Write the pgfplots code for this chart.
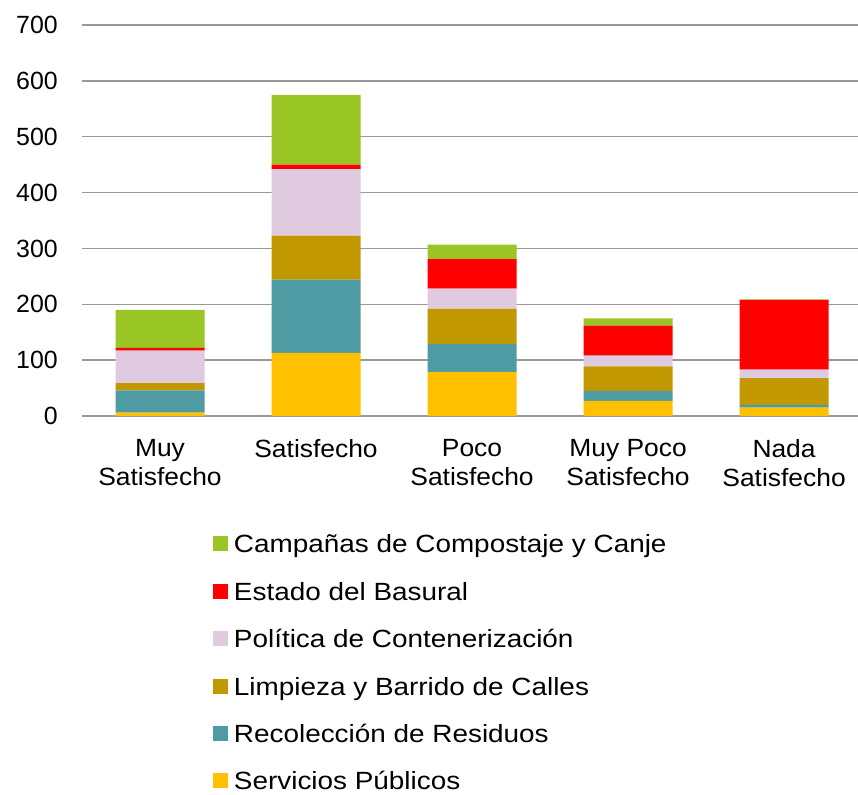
\documentclass[border=0pt]{standalone}
\usepackage{fontspec}
\setmainfont{Liberation Sans}
\newfontfamily\legfont[FakeStretch=1.12]{Liberation Sans}
\newfontfamily\xlabfont[FakeStretch=1.06]{Liberation Sans}
\usepackage{pgfplots}
\pgfplotsset{compat=1.18}
\definecolor{cYel}{RGB}{255,192,0}
\definecolor{cTeal}{RGB}{79,155,164}
\definecolor{cGold}{RGB}{194,152,0}
\definecolor{cPink}{RGB}{224,202,224}
\definecolor{cRed}{RGB}{255,0,0}
\definecolor{cGreen}{RGB}{153,198,37}
\definecolor{cGrid}{RGB}{153,153,153}
\begin{document}
\fontsize{25}{29}\selectfont
\begin{tikzpicture}[font=\fontsize{25}{29}\selectfont]
\path[use as bounding box] (0,0) rectangle (858bp,795bp);
\begin{axis}[
  at={(82bp,379bp)}, anchor=south west,
  scale only axis, width=776bp, height=391bp,
  ybar stacked, bar width=89bp,
  xmin=-0.5, xmax=4.474, ymin=0, ymax=700,
  ytick={0,100,...,700},
  xtick={0,1,2,3,4},
  xticklabels={{Muy\\Satisfecho},{Satisfecho},{Poco\\Satisfecho},{Muy Poco\\Satisfecho},{Nada\\Satisfecho}},
  xticklabel style={align=center, inner sep=0pt, anchor=north, yshift=-23bp, font=\fontsize{25}{29}\xlabfont},
  yticklabel style={inner sep=0pt, anchor=east, xshift=-24bp},
  /pgf/number format/assume math mode=true,
  major tick length=0pt,
  axis line style={draw=none},
  ymajorgrids, major grid style={cGrid, line width=1.5bp},
  reverse legend,
  legend cell align=left,
  legend style={at={(0.1688,-0.3043)}, anchor=north west, draw=none, fill=none,
    inner sep=0pt, outer sep=0pt, row sep=29.4bp, column sep=6bp,
    font=\fontsize{25}{29}\legfont,
    nodes={inner sep=0pt, text height=18bp, text depth=0bp, anchor=base west}},
  legend image code/.code={\fill[#1] (0bp,1.5bp) rectangle (15bp,16.5bp);},
]
\addplot[fill=cYel, draw=none] coordinates {(0,6) (1,113) (2,79) (3,27) (4,15)};
\addplot[fill=cTeal, draw=none] coordinates {(0,40) (1,131) (2,50) (3,18) (4,5)};
\addplot[fill=cGold, draw=none] coordinates {(0,13) (1,79) (2,63) (3,44) (4,48)};
\addplot[fill=cPink, draw=none] coordinates {(0,58) (1,119) (2,36) (3,19) (4,15)};
\addplot[fill=cRed, draw=none] coordinates {(0,5) (1,8) (2,53) (3,54) (4,125)};
\addplot[fill=cGreen, draw=none] coordinates {(0,68) (1,125) (2,26) (3,13) (4,1)};
\legend{Servicios Públicos, Recolección de Residuos, Limpieza y Barrido de Calles, Política de Contenerización, Estado del Basural, Campañas de Compostaje y Canje}
\end{axis}
\end{tikzpicture}
\end{document}
